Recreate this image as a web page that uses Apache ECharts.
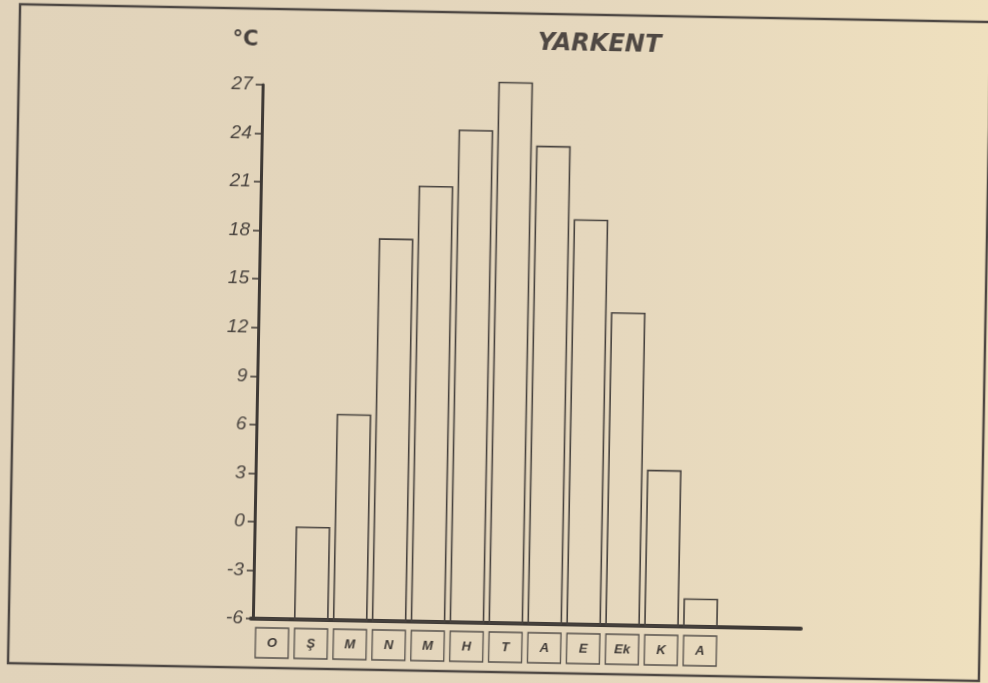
<!DOCTYPE html>
<html>
<head>
<meta charset="utf-8">
<title>Yarkent</title>
<script src="https://cdn.jsdelivr.net/npm/echarts@6/dist/echarts.min.js"></script>
<style>
  html, body { margin: 0; padding: 0; width: 988px; height: 683px; overflow: hidden;
    background: linear-gradient(90deg, #e1d3ba 0%, #e5d7bd 60%, #efe0be 100%); }
  #chart { width: 988px; height: 683px; transform: rotate(1.05deg); }
</style>
</head>
<body>
<div id="chart"></div>
<script>
const months = ['O', 'Ş', 'M', 'N', 'M', 'H', 'T', 'A', 'E', 'Ek', 'K', 'A'];
const temps = [-6, -0.3, 6.7, 17.6, 20.9, 24.4, 27.4, 23.5, 19.0, 13.3, 3.6, -4.3];
const yMin = -6;
const yMax = 27;
const yStep = 3;

const ink = '#3f3a36';

const chart = echarts.init(document.getElementById('chart'));

const option = {
  backgroundColor: 'transparent',
  animation: false,
  graphic: [{
    type: 'rect',
    shape: { x: 14, y: 13, width: 971, height: 659 },
    style: { fill: 'none', stroke: '#4d4743', lineWidth: 2.5 },
    silent: true
  }],
  title: [{
    text: 'YARKENT',
    left: 589,
    top: 26,
    textAlign: 'center',
    textStyle: { fontFamily: 'DejaVu Sans', fontSize: 24, fontWeight: 'bold',
      fontStyle: 'italic', color: '#4f4843' }
  }, {
    text: '°C',
    left: 222,
    top: 29,
    textStyle: { fontFamily: 'DejaVu Sans', fontSize: 21, fontWeight: 'bold', color: '#48423e' }
  }],
  grid: [
    { left: 258, top: 89, width: 467, height: 534 },
    { left: 256, top: 89, width: 550, height: 534 }
  ],
  xAxis: [{
    type: 'category',
    gridIndex: 0,
    data: months,
    axisLine: { show: false, onZero: false },
    axisTick: { show: false },
    axisLabel: {
      margin: 9,
      width: 33,
      height: 30,
      lineHeight: 30,
      borderColor: '#55504b',
      borderWidth: 1.3,
      fontFamily: 'Liberation Sans',
      fontSize: 13,
      fontWeight: 'bold',
      fontStyle: 'italic',
      color: '#3f3a36'
    },
    splitLine: { show: false }
  }, {
    type: 'value',
    gridIndex: 1,
    min: 0,
    max: 1,
    axisLine: { show: true, onZero: false, lineStyle: { color: ink, width: 4 } },
    axisTick: { show: false },
    axisLabel: { show: false },
    splitLine: { show: false }
  }],
  yAxis: [{
    type: 'value',
    gridIndex: 0,
    min: yMin,
    max: yMax,
    interval: yStep,
    axisLine: { show: true, onZero: false, lineStyle: { color: ink, width: 3 } },
    axisTick: { show: true, length: 7, lineStyle: { color: ink, width: 1.5 } },
    axisLabel: {
      margin: 10,
      fontFamily: 'Liberation Sans',
      fontSize: 19,
      fontStyle: 'italic',
      color: '#4b4540'
    },
    splitLine: { show: false }
  }, {
    type: 'value',
    gridIndex: 1,
    min: yMin,
    max: yMax,
    show: false
  }],
  series: [{
    type: 'custom',
    xAxisIndex: 0,
    yAxisIndex: 0,
    data: temps.map((v, i) => [i, v]),
    encode: { x: 0, y: 1 },
    renderItem: function (params, api) {
      const base = api.coord([api.value(0), yMin]);
      const top = api.coord([api.value(0), api.value(1)]);
      const w = api.size([1, 0])[0] * 0.85;
      return {
        type: 'rect',
        shape: { x: top[0] - w / 2, y: top[1], width: w, height: base[1] - top[1] },
        style: { fill: 'none', stroke: '#48433f', lineWidth: 1.6 }
      };
    }
  }]
};

chart.setOption(option);
</script>
</body>
</html>
